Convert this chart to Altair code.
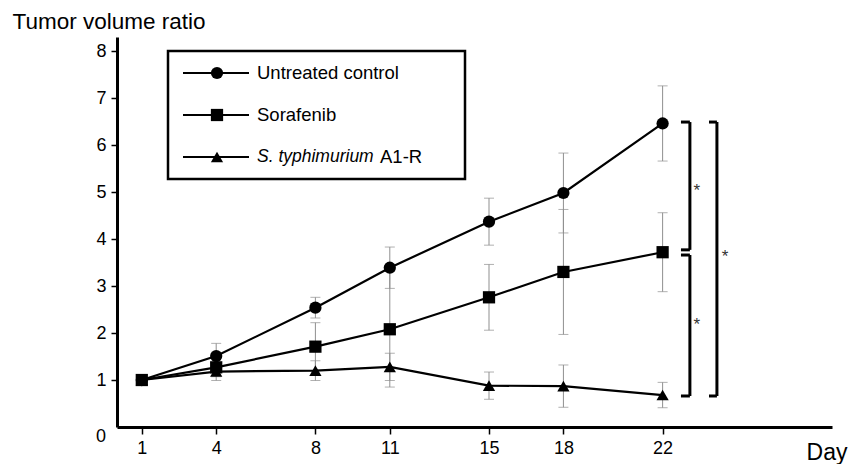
import altair as alt
import pandas as pd

# ---------------- data ----------------
days = [1, 4, 8, 11, 15, 18, 22]
series_names = ["Untreated control", "Sorafenib", "S. typhimurium A1-R"]

untreated = [1.00, 1.51, 2.54, 3.39, 4.37, 4.98, 6.46]
untreated_sd = [0.00, 0.27, 0.22, 0.44, 0.50, 0.85, 0.80]
sorafenib = [1.00, 1.27, 1.71, 2.08, 2.76, 3.30, 3.72]
sorafenib_sd = [0.00, 0.20, 0.51, 1.23, 0.70, 1.33, 0.84]
typhimurium = [1.00, 1.18, 1.20, 1.28, 0.88, 0.87, 0.68]
typhimurium_sd = [0.00, 0.19, 0.21, 0.29, 0.29, 0.45, 0.27]

y_ticks = [1, 2, 3, 4, 5, 6, 7, 8]
x_ticks = days

# significance brackets (in data units: day / ratio)
bracket_left = [22.74, 22.74, 23.87]
bracket_right = [23.10, 23.10, 24.19]
bracket_top = [6.49, 3.66, 6.49]
bracket_bottom = [3.77, 0.66, 0.66]
star_day = [23.38, 23.38, 24.52]
star_value = [5.10, 2.25, 3.70]
star_text = ["*", "*", "*"]

legend_plain = ["Untreated control", "Sorafenib", "A1-R"]
legend_italic = ["", "", "S. typhimurium"]

FONT = "Liberation Sans"

# ---------------- tables ----------------
rows = []
for name, vals, sds in zip(series_names,
                           [untreated, sorafenib, typhimurium],
                           [untreated_sd, sorafenib_sd, typhimurium_sd]):
    for d, v, s in zip(days, vals, sds):
        rows.append(dict(series=name, day=d, value=v, lo=v - s, hi=v + s, sd=s))
df = pd.DataFrame(rows)
err_df = df[df["sd"] > 0]

br_df = pd.DataFrame(dict(xl=bracket_left, xr=bracket_right,
                          top=bracket_top, bot=bracket_bottom))
star_df = pd.DataFrame(dict(day=star_day, value=star_value, t=star_text))
one = pd.DataFrame({"k": [0]})
leg_df = pd.DataFrame(dict(series=series_names, row=[0, 1, 2],
                           plain=legend_plain, italic=legend_italic))

# ---------------- scales ----------------
xs = alt.Scale(domain=[0, 28.83], nice=False, zero=False)
ys = alt.Scale(domain=[0, 8.3], nice=False, zero=False)
shape_scale = alt.Scale(domain=series_names, range=["circle", "square", "triangle-up"])

X = alt.X("day:Q", scale=xs,
          axis=alt.Axis(values=x_ticks, title="Day", titleX=730, titleY=32,
                        titleAlign="right", titleBaseline="alphabetic",
                        titleFontSize=23, titleFontWeight="normal",
                        labelPadding=5, tickSize=7))
Y = alt.Y("value:Q", scale=ys,
          axis=alt.Axis(values=y_ticks, title="Tumor volume ratio", titleAngle=0,
                        titleX=-105, titleY=-8.5, titleAlign="left",
                        titleBaseline="alphabetic", titleFontSize=22.5,
                        titleFontWeight="normal", labelPadding=5, tickSize=6))

GRAY = "#8f8f8f"

err_rule = alt.Chart(err_df).mark_rule(color=GRAY, strokeWidth=1).encode(
    x=X, y=alt.Y("lo:Q", scale=ys), y2="hi:Q")
cap_hi = alt.Chart(err_df).mark_tick(orient="horizontal", size=10, thickness=1,
                                     color=GRAY).encode(x=X, y=alt.Y("hi:Q", scale=ys))
cap_lo = alt.Chart(err_df).mark_tick(orient="horizontal", size=10, thickness=1,
                                     color=GRAY).encode(x=X, y=alt.Y("lo:Q", scale=ys))

lines = alt.Chart(df).mark_line(color="black", strokeWidth=2.2).encode(
    x=X, y=Y, detail="series:N")
points = alt.Chart(df).mark_point(filled=True, color="black", opacity=1, size=150).encode(
    x=X, y=Y, shape=alt.Shape("series:N", scale=shape_scale, legend=None))

br_v = alt.Chart(br_df).mark_rule(color="black", strokeWidth=3).encode(
    x=alt.X("xr:Q", scale=xs), y=alt.Y("top:Q", scale=ys), y2="bot:Q")
br_t = alt.Chart(br_df).mark_rule(color="black", strokeWidth=3).encode(
    x=alt.X("xl:Q", scale=xs), x2="xr:Q", y=alt.Y("top:Q", scale=ys))
br_b = alt.Chart(br_df).mark_rule(color="black", strokeWidth=3).encode(
    x=alt.X("xl:Q", scale=xs), x2="xr:Q", y=alt.Y("bot:Q", scale=ys))
stars = alt.Chart(star_df).mark_text(fontSize=17, color="#333", font=FONT,
                                     baseline="middle", dy=4).encode(
    x=alt.X("day:Q", scale=xs), y=alt.Y("value:Q", scale=ys), text="t:N")

zero_label = alt.Chart(one).mark_text(align="right", baseline="middle", fontSize=18,
                                      font=FONT, color="black", dy=10).encode(
    x=alt.value(-11), y=alt.datum(0, scale=ys), text=alt.value("0"))

main = alt.layer(err_rule, cap_hi, cap_lo, lines, points, br_v, br_t, br_b,
                 stars, zero_label)

# ---------------- legend (drawn as a layer) ----------------
LY = alt.Y("row:O", scale=alt.Scale(type="point", domain=[0, 1, 2],
                                     range=[36, 120], padding=0), axis=None)
box = alt.Chart(one).mark_rect(fill="white", stroke="black", strokeWidth=2.5).encode(
    x=alt.value(51), x2=alt.value(348), y=alt.value(14), y2=alt.value(142))
leg_rule = alt.Chart(leg_df).mark_rule(color="black", strokeWidth=2.2).encode(
    x=alt.value(66), x2=alt.value(132), y=LY)
leg_pts = alt.Chart(leg_df).mark_point(filled=True, color="black", opacity=1,
                                       size=150).encode(
    x=alt.value(100), y=LY,
    shape=alt.Shape("series:N", scale=shape_scale, legend=None))
leg_txt = alt.Chart(leg_df).transform_filter("datum.row < 2").mark_text(
    align="left", baseline="middle", fontSize=18.5, font=FONT, color="black").encode(
    x=alt.value(140), y=LY, text="plain:N")
leg_it = alt.Chart(leg_df).transform_filter("datum.row == 2").mark_text(
    align="left", baseline="middle", fontSize=17.5, font=FONT, fontStyle="italic",
    color="black").encode(x=alt.value(140), y=LY, text="italic:N")
leg_a1 = alt.Chart(leg_df).transform_filter("datum.row == 2").mark_text(
    align="left", baseline="middle", fontSize=18.5, font=FONT, color="black").encode(
    x=alt.value(263), y=LY, text="plain:N")

legend = alt.layer(box, leg_rule, leg_pts, leg_txt, leg_it, leg_a1)

chart = alt.layer(main, legend).resolve_scale(y="independent").properties(
    width=715, height=390,
    autosize=alt.AutoSizeParams(type="none"),
    padding={"left": 109, "top": 29, "right": 17, "bottom": 37},
    background="white",
).configure_view(stroke=None).configure_axis(
    grid=False, domainColor="black", domainWidth=3, tickColor="black",
    tickWidth=1.5, labelFont=FONT, labelFontSize=18, labelColor="black",
    titleFont=FONT, titleColor="black",
)

chart.save("out.html", embed_options={"renderer": "svg", "actions": False})
